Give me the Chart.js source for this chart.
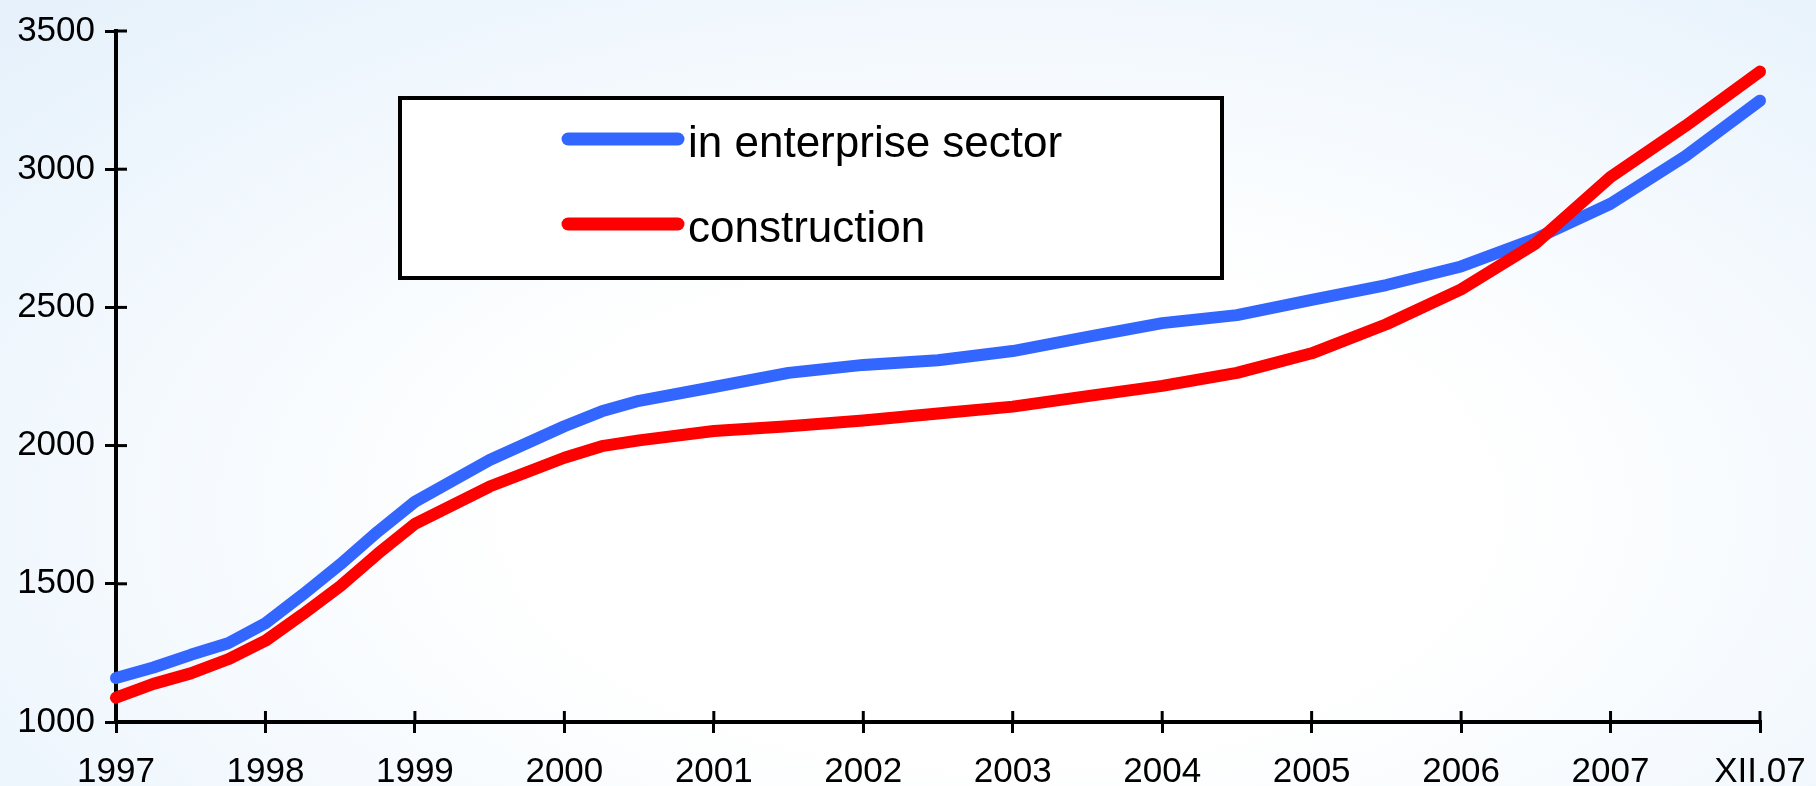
<!DOCTYPE html>
<html>
<head>
<meta charset="utf-8">
<script src="https://cdn.jsdelivr.net/npm/chart.js@4/dist/chart.umd.min.js"></script>
<style>
  html, body { margin: 0; padding: 0; }
  body {
    width: 1816px; height: 786px; overflow: hidden;
    background: radial-gradient(ellipse 75% 90% at 55% 65%, #ffffff 35%, #eef6fd 80%, #e6f1fb 100%);
  }
  #wrap { position: relative; width: 1816px; height: 786px; }
</style>
</head>
<body>
<div id="wrap"><canvas id="myChart" width="1816" height="786"></canvas></div>
<script>
'use strict';

// x position: 0 = 1997 ... 10 = 2007, 11 = XII.07 (quarter steps early on)
var xLabels = ['1997', '1998', '1999', '2000', '2001', '2002', '2003', '2004', '2005', '2006', '2007', 'XII.07'];
var xPos = [0, 0.25, 0.5, 0.75, 1, 1.25, 1.5, 1.75, 2, 2.5, 3, 3.25, 3.5, 4, 4.5, 5, 5.5, 6, 6.5, 7, 7.5, 8, 8.5, 9, 9.5, 10, 10.5, 11];
var enterprise = [1159, 1197, 1243, 1285, 1357, 1461, 1570, 1688, 1797, 1948, 2070, 2124, 2162, 2212, 2263, 2292, 2309, 2342, 2393, 2443, 2472, 2527, 2581, 2648, 2749, 2875, 3047, 3248];
var construction = [1088, 1138, 1176, 1227, 1294, 1390, 1491, 1608, 1717, 1852, 1956, 1998, 2019, 2053, 2070, 2091, 2116, 2141, 2179, 2216, 2263, 2334, 2439, 2565, 2732, 2972, 3156, 3353];
var seriesNames = ['in enterprise sector', 'construction'];
var seriesColors = ['#3366ff', '#ff0000'];

function toPoints(vals) {
  return vals.map(function (v, i) { return { x: xPos[i], y: v }; });
}

var FONT = "'Liberation Sans', Arial, sans-serif";

// ticks that cross the axis line (inner half)
var innerTicks = {
  id: 'innerTicks',
  afterDraw: function (chart) {
    var c = chart.ctx, x = chart.scales.x, y = chart.scales.y;
    c.save();
    c.strokeStyle = '#000';
    c.lineWidth = 3;
    x.ticks.forEach(function (t, i) {
      var px = x.getPixelForTick(i);
      c.beginPath(); c.moveTo(px, y.bottom); c.lineTo(px, y.bottom - 11); c.stroke();
    });
    y.ticks.forEach(function (t, i) {
      var py = y.getPixelForTick(i);
      c.beginPath(); c.moveTo(x.left, py); c.lineTo(x.left + 11, py); c.stroke();
    });
    c.restore();
  }
};

// boxed legend inside the plot
var boxLegend = {
  id: 'boxLegend',
  afterDraw: function (chart) {
    var c = chart.ctx;
    c.save();
    c.fillStyle = '#ffffff';
    c.fillRect(400, 98, 822, 180);
    c.strokeStyle = '#000';
    c.lineWidth = 4;
    c.strokeRect(400, 98, 822, 180);
    var rows = [139, 224];
    chart.data.datasets.forEach(function (ds, i) {
      c.strokeStyle = ds.borderColor;
      c.lineWidth = 13;
      c.lineCap = 'round';
      c.beginPath(); c.moveTo(568, rows[i]); c.lineTo(678, rows[i]); c.stroke();
      c.fillStyle = '#000';
      c.font = '44px ' + FONT;
      c.textBaseline = 'alphabetic';
      c.fillText(ds.label, 688, rows[i] + 18);
    });
    c.restore();
  }
};

var ctx = document.getElementById('myChart').getContext('2d');
var chart = new Chart(ctx, {
  type: 'line',
  data: {
    datasets: [{
      label: seriesNames[0],
      data: toPoints(enterprise),
      borderColor: seriesColors[0],
      borderWidth: 12,
      borderCapStyle: 'round',
      borderJoinStyle: 'round',
      pointRadius: 0,
      tension: 0,
      order: 1
    }, {
      label: seriesNames[1],
      data: toPoints(construction),
      borderColor: seriesColors[1],
      borderWidth: 12,
      borderCapStyle: 'round',
      borderJoinStyle: 'round',
      pointRadius: 0,
      tension: 0,
      order: 0
    }]
  },
  options: {
    responsive: false,
    animation: false,
    clip: false,
    layout: { padding: { top: 31, right: 56, left: 0, bottom: 0 } },
    plugins: {
      legend: { display: false },
      tooltip: { enabled: false }
    },
    scales: {
      x: {
        type: 'linear',
        min: 0,
        max: 11,
        afterFit: function (s) { s.height = 64; s.paddingRight = 0; s.paddingLeft = 0; },
        afterBuildTicks: function (s) {
          s.ticks = xLabels.map(function (l, i) { return { value: i }; });
        },
        ticks: {
          color: '#000',
          font: { family: FONT, size: 35 },
          padding: 18,
          maxRotation: 0,
          autoSkip: false,
          callback: function (v) { return xLabels[v]; }
        },
        grid: { drawOnChartArea: false, drawTicks: true, tickLength: 11, lineWidth: 3, color: '#000' },
        border: { display: true, width: 4, color: '#000' }
      },
      y: {
        min: 1000,
        max: 3500,
        afterFit: function (s) { s.width = 116; s.paddingTop = 0; s.paddingBottom = 0; },
        ticks: {
          stepSize: 500,
          color: '#000',
          font: { family: FONT, size: 35 },
          padding: 10,
          callback: function (v) { return String(v); }
        },
        grid: { drawOnChartArea: false, drawTicks: true, tickLength: 11, lineWidth: 3, color: '#000' },
        border: { display: true, width: 4, color: '#000' }
      }
    }
  },
  plugins: [innerTicks, boxLegend]
});
</script>
</body>
</html>
